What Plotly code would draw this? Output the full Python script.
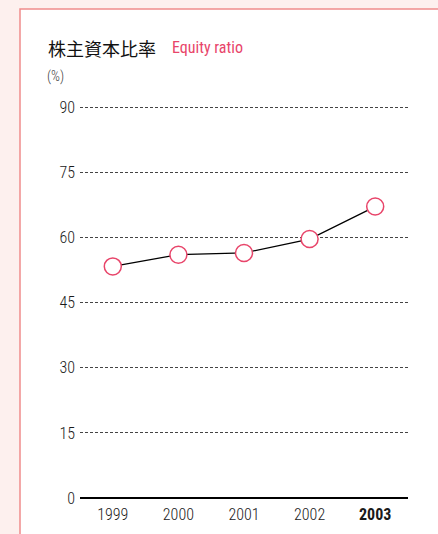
import plotly.graph_objects as go

years = ["1999", "2000", "2001", "2002", "2003"]
tick_text = ["1999", "2000", "2001", "2002", "<b>2003</b>"]
equity_ratio = [53.4, 56.1, 56.5, 59.7, 67.2]
y_ticks = [0, 15, 30, 45, 60, 75, 90]

W, H = 438, 534
Y_TOP = 92.0
unit = 4.338
ML, MR, MB = 80, 30, 36
MT = round(H - MB - Y_TOP * unit)
pw, ph = W - ML - MR, H - MT - MB

def px(x):
    return (x - ML) / pw

def py(y):
    return (H - MB - y) / ph

FONT = "Roboto Condensed"
PINK = "#e8456a"

fig = go.Figure()
fig.add_trace(go.Scatter(
    x=years, y=equity_ratio, mode="lines+markers",
    line=dict(color="black", width=1.3),
    marker=dict(size=17, color="white", line=dict(color=PINK, width=1.5)),
    cliponaxis=False, showlegend=False, hoverinfo="skip",
))

fig.update_layout(
    width=W, height=H,
    margin=dict(l=ML, r=MR, t=MT, b=MB, autoexpand=False),
    paper_bgcolor="#fdf0ee",
    plot_bgcolor="rgba(0,0,0,0)",
    font=dict(family=FONT, color="#333333", size=16),
    xaxis=dict(
        type="category", range=[-0.5, 4.5], tickvals=years, ticktext=tick_text,
        showgrid=False, zeroline=False, showline=False, automargin=False,
        ticks="outside", ticklen=2, tickcolor="rgba(0,0,0,0)",
        tickfont=dict(family=FONT, size=16, color="#1a1a1a", weight=300), fixedrange=True,
    ),
    yaxis=dict(
        range=[0, Y_TOP], tickvals=y_ticks, showgrid=True, automargin=False,
        gridcolor="#444444", gridwidth=1, griddash="3px,2px",
        zeroline=True, zerolinecolor="black", zerolinewidth=2,
        showline=False, ticks="", ticklabelstandoff=4,
        tickfont=dict(family=FONT, size=16, color="#1a1a1a", weight=300),
        fixedrange=True,
    ),
    shapes=[dict(
        type="rect", xref="paper", yref="paper", layer="below",
        x0=px(20), x1=px(W + 20), y0=py(H + 20), y1=py(9),
        fillcolor="white", line=dict(color="#f08c8c", width=1.5),
    )],
    annotations=[
        dict(xref="paper", yref="paper", x=px(46), y=py(48), xanchor="left", yanchor="middle",
             text="株主資本比率", showarrow=False,
             font=dict(family="Noto Sans CJK JP", size=18, color="#111111")),
        dict(xref="paper", yref="paper", x=px(170), y=py(48), xanchor="left", yanchor="middle",
             text="Equity ratio", showarrow=False,
             font=dict(family=FONT, size=16, color=PINK, weight=400)),
        dict(xref="paper", yref="paper", x=px(45), y=py(77), xanchor="left", yanchor="middle",
             text="(%)", showarrow=False,
             font=dict(family=FONT, size=14, color="#444444", weight=300)),
    ],
)

fig.write_html(
    "out.html",
    config={"displayModeBar": False},
    post_script="document.body.style.margin='0';document.body.style.overflow='hidden';",
)
